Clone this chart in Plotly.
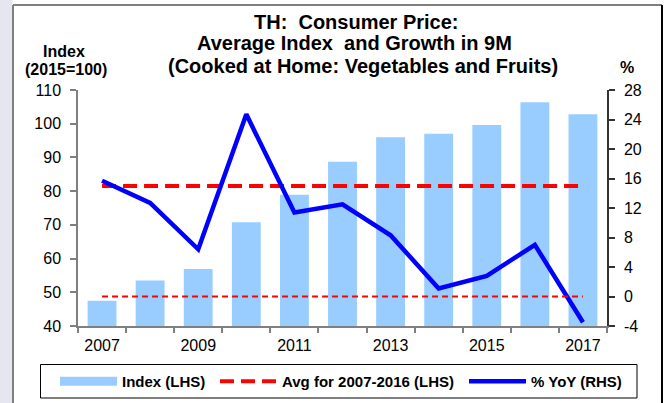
import plotly.graph_objects as go

years = [2007, 2008, 2009, 2010, 2011, 2012, 2013, 2014, 2015, 2016, 2017]
index_lhs = [47.5, 53.5, 56.9, 70.8, 78.9, 88.7, 96.0, 97.0, 99.6, 106.4, 102.8]
yoy_rhs = [15.7, 12.7, 6.4, 24.7, 11.4, 12.5, 8.3, 1.1, 2.8, 7.0, -3.5]
avg_lhs = 81.5
x_tick_labels = ["2007", "2009", "2011", "2013", "2015", "2017"]
left_ticks = [40, 50, 60, 70, 80, 90, 100, 110]
right_ticks = [-4, 0, 4, 8, 12, 16, 20, 24, 28]

FONT = "Arial, Liberation Sans, sans-serif"
W, H = 668, 403
ML, MR, MT, MB = 78, 61, 90, 77
PW, PH = W - ML - MR, H - MT - MB


def px_x(x):
    return (x - ML) / PW


def px_y(y):
    return (H - MB - y) / PH


fig = go.Figure()

fig.add_trace(go.Bar(
    x=years, y=index_lhs, name="Index (LHS)", marker=dict(color="#99ccff", line=dict(width=0)),
    width=0.6, yaxis="y", showlegend=False,
))
# legend stand-in for the bar series (drawn as a thick swatch)
fig.add_trace(go.Scatter(
    x=[None], y=[None], mode="lines", name="Index (LHS)",
    line=dict(color="#99ccff", width=9), yaxis="y", legendwidth=88,
))
fig.add_trace(go.Scatter(
    x=years, y=[avg_lhs] * len(years), mode="lines", name="Avg for 2007-2016 (LHS)",
    line=dict(color="#ff0000", width=4, dash="14px,7px"), yaxis="y", legendwidth=177,
))
fig.add_trace(go.Scatter(
    x=years, y=yoy_rhs, mode="lines", name="% YoY (RHS)",
    line=dict(color="#0000ff", width=4.5), yaxis="y2", legendwidth=95,
))

shapes = [
    dict(type="rect", xref="paper", yref="paper", x0=px_x(0), x1=px_x(12.5), y0=px_y(410), y1=px_y(-5),
         fillcolor="#e6e6f0", line=dict(width=0), layer="below"),
    dict(type="line", xref="paper", yref="paper", x0=px_x(13), x1=px_x(13), y0=px_y(410), y1=px_y(5),
         line=dict(color="#7f7f7f", width=2), layer="below"),
    dict(type="line", xref="paper", yref="paper", x0=px_x(13), x1=px_x(662), y0=px_y(5), y1=px_y(5),
         line=dict(color="#7f7f7f", width=2), layer="below"),
    dict(type="line", xref="paper", yref="paper", x0=px_x(662), x1=px_x(662), y0=px_y(410), y1=px_y(5),
         line=dict(color="#000000", width=2), layer="below"),
    # legend frame
    dict(type="rect", xref="paper", yref="paper", x0=px_x(40.5), x1=px_x(637), y0=px_y(398), y1=px_y(364.5),
         line=dict(color="#000000", width=1), fillcolor="rgba(0,0,0,0)", layer="above"),
    dict(type="line", xref="x", yref="y2", x0=years[0], x1=years[-1], y0=0, y1=0,
         line=dict(color="#ff0000", width=2, dash="6px,4px")),
]

annotations = [
    dict(text="<b>TH:  Consumer Price:</b>", x=px_x(355.5), y=px_y(21.5)),
    dict(text="<b>Average Index  and Growth in 9M</b>", x=px_x(354), y=px_y(43.5)),
    dict(text="<b>(Cooked at Home: Vegetables and Fruits)</b>", x=px_x(363), y=px_y(66)),
]
for a in annotations:
    a.update(xref="paper", yref="paper", showarrow=False, xanchor="center", yanchor="middle",
             font=dict(family=FONT, size=20, color="#000000"))
annotations += [
    dict(text="<b>Index</b>", x=px_x(64), y=px_y(51)),
    dict(text="<b>(2015=100)</b>", x=px_x(66), y=px_y(69)),
    dict(text="<b>%</b>", x=px_x(627), y=px_y(67)),
]
for a in annotations[3:]:
    a.update(xref="paper", yref="paper", showarrow=False, xanchor="center", yanchor="middle",
             font=dict(family=FONT, size=16, color="#000000"))

fig.update_layout(
    width=W, height=H,
    margin=dict(l=ML, r=MR, t=MT, b=MB, pad=0, autoexpand=False),
    paper_bgcolor="#ffffff", plot_bgcolor="#ffffff",
    font=dict(family=FONT, size=16, color="#000000"),
    bargap=0.4,
    xaxis=dict(
        range=[2006.5, 2017.5], tickmode="array", tickvals=years[::2], ticktext=x_tick_labels,
        ticks="", showgrid=False, zeroline=False, showline=True, linecolor="#7f7f7f", linewidth=1.5,
        ticklabelstandoff=4,
        minor=dict(tickmode="linear", tick0=2006.5, dtick=1, ticks="outside", ticklen=5,
                   tickcolor="#7f7f7f", tickwidth=1.5, showgrid=False),
        tickfont=dict(family=FONT, size=16),
    ),
    yaxis=dict(
        range=[40, 110], tickmode="array", tickvals=left_ticks, ticktext=[str(v) for v in left_ticks],
        ticks="outside", ticklen=6,
        tickcolor="#7f7f7f", tickwidth=1.5, showline=True, linecolor="#7f7f7f", linewidth=1.5,
        showgrid=False, zeroline=False, ticklabelstandoff=6, tickfont=dict(family=FONT, size=16),
    ),
    yaxis2=dict(
        range=[-4, 28], tickmode="array", tickvals=right_ticks, ticktext=[str(v) for v in right_ticks],
        ticks="outside", ticklen=6,
        tickcolor="#333333", tickwidth=1.5, showline=True, linecolor="#333333", linewidth=1.5,
        showgrid=False, zeroline=False, overlaying="y", side="right", ticklabelstandoff=6,
        tickfont=dict(family=FONT, size=16),
    ),
    legend=dict(
        orientation="h", xref="paper", yref="paper",
        x=px_x(55), xanchor="left", y=px_y(365), yanchor="top",
        borderwidth=0, bgcolor="rgba(0,0,0,0)", itemwidth=57,
        font=dict(family=FONT, size=15, color="#000000", weight="bold"), traceorder="normal",
        itemclick=False, itemdoubleclick=False,
    ),
    shapes=shapes, annotations=annotations,
)

fig.write_html(
    "out.html",
    config={"displayModeBar": False},
    post_script="document.body.style.margin='0';document.body.style.overflow='hidden';",
)
